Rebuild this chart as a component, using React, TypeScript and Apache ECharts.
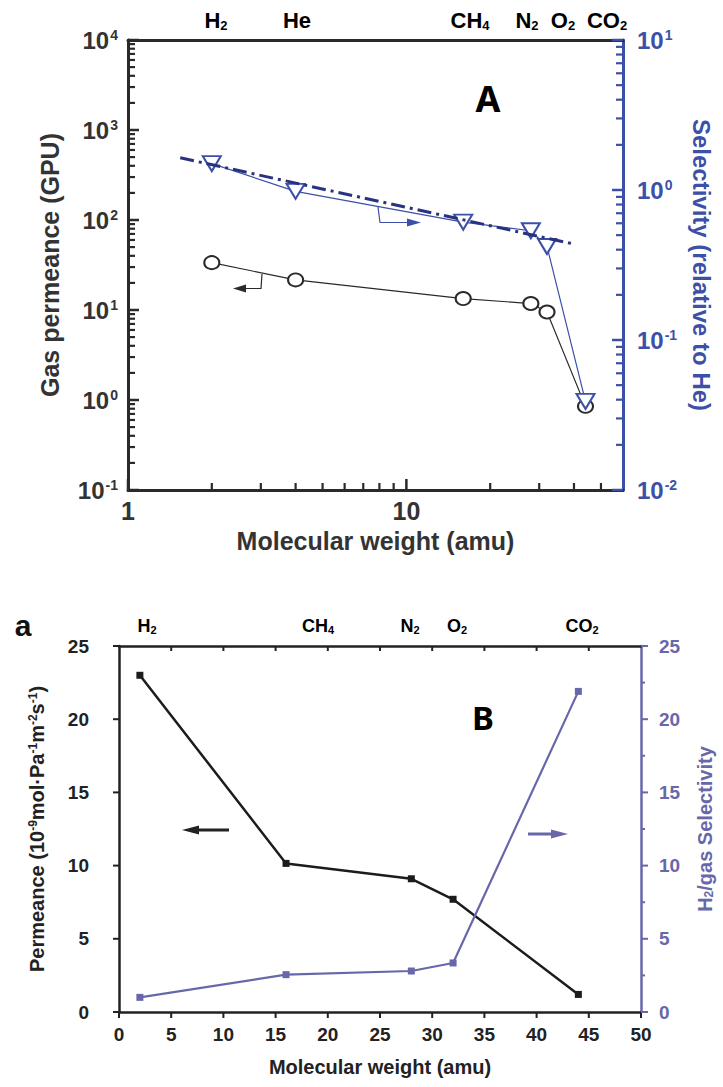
import React, { useEffect, useRef } from "react";
import * as echarts from "echarts";

// ---------- Chart A (log-log) ----------
const gasesA = ["H2", "He", "CH4", "N2", "O2", "CO2"];
const mwA = [2, 4, 16, 28, 32, 44];
const permeanceA = [33.6, 21.6, 13.4, 11.8, 9.5, 0.85];
const selectivityA = [1.5, 0.98, 0.61, 0.535, 0.42, 0.039];
const fitMwA = [1.54, 40];
const fitSelA = [1.64, 0.436];

// ---------- Chart B (linear) ----------
const gasesB = ["H2", "CH4", "N2", "O2", "CO2"];
const mwB = [2, 16, 28, 32, 44];
const permeanceB = [23.0, 10.15, 9.1, 7.7, 1.2];
const selectivityB = [1.0, 2.55, 2.8, 3.35, 21.9];

// tick helpers
const logMinorMultipliers = [2, 3, 4, 5, 6, 7, 8, 9];
const aLeftDecades = [0.1, 1, 10, 100, 1000, 10000];
const aRightDecades = [0.01, 0.1, 1, 10];
const aBottomDecades = [1, 10];
const bXTicks = [0, 5, 10, 15, 20, 25, 30, 35, 40, 45, 50];
const bYTicks = [0, 5, 10, 15, 20, 25];
const bYMinorTicks = [2.5, 7.5, 12.5, 17.5, 22.5];

// label positions (pixel) for the gas names above each panel
const gasLabelXA = [216, 297, 470, 527, 563, 607];
const gasLabelXB = [147, 318, 410, 457, 582];

const FONT = "'Liberation Sans', Arial, sans-serif";
const BLUE_A = "#3c50a8";
const NAVY_A = "#28327e";
const PURPLE_B = "#6767aa";
const DARK = "#2a2a2a";

const A_X = [1, 60];
const A_YL = [0.1, 10000];
const A_YR = [0.01, 10];
const B_X = [0, 50];
const B_Y = [0, 25];
const A_GRID = { left: 128, top: 40, width: 495, height: 450 };
const B_GRID = { left: 119, top: 646, width: 523, height: 366 };

function minors(decades: number[], max: number) {
  const out: number[] = [];
  decades.forEach((d) =>
    logMinorMultipliers.forEach((m) => {
      const v = m * d;
      if (v < max) out.push(+v.toPrecision(3));
    })
  );
  return out;
}

function gasRich(name: string) {
  const m = name.match(/^([A-Za-z]+?)(\d*)$/);
  if (!m) return name;
  return m[2] ? `{n|${m[1]}}{s|${m[2]}}` : `{n|${m[1]}}`;
}

function isPow10(v: number) {
  const e = Math.log10(v);
  return Math.abs(e - Math.round(e)) < 1e-6;
}

function pow10Label(v: number) {
  if (!isPow10(v)) return "";
  const e = Math.round(Math.log10(v));
  return `{b|10}{s|${e}}`;
}

function powRich(color: string) {
  return {
    b: { fontSize: 24, fontWeight: "bold", fontFamily: FONT, color },
    s: { fontSize: 14, fontWeight: "bold", fontFamily: FONT, color, verticalAlign: "top", padding: [0, 0, 0, 1] },
  };
}

export default function App() {
  const ref = useRef<HTMLDivElement>(null);
  const tickRef = useRef<HTMLDivElement>(null);

  useEffect(() => {
    document.body.style.margin = "0";
    if (!ref.current || !tickRef.current) return;
    const chart = echarts.init(ref.current, undefined, { renderer: "svg" });
    const tickChart = echarts.init(tickRef.current, undefined, { renderer: "svg" });

    const gasLabelRichA = {
      n: { fontSize: 22, fontWeight: "bold", fontFamily: FONT, color: "#333" },
      s: { fontSize: 13, fontWeight: "bold", fontFamily: FONT, color: "#333", verticalAlign: "bottom", padding: [10, 0, 0, 0] },
    };
    const gasLabelRichB = {
      n: { fontSize: 18, fontWeight: "bold", fontFamily: FONT, color: "#222" },
      s: { fontSize: 11, fontWeight: "bold", fontFamily: FONT, color: "#222", verticalAlign: "bottom", padding: [8, 0, 0, 0] },
    };

    const graphics: any[] = [];
    gasesA.forEach((g, i) =>
      graphics.push({ type: "text", x: gasLabelXA[i], y: 20, style: { text: gasRich(g), rich: gasLabelRichA, align: "center", verticalAlign: "middle" } })
    );
    gasesB.forEach((g, i) =>
      graphics.push({ type: "text", x: gasLabelXB[i], y: 626, style: { text: gasRich(g), rich: gasLabelRichB, align: "center", verticalAlign: "middle" } })
    );
    graphics.push(
      { type: "text", x: 488, y: 98, style: { text: "A", fontSize: 36, fontWeight: "bold", fontFamily: "'Noto Sans', sans-serif", fill: "#000", align: "center", verticalAlign: "middle" } },
      { type: "text", x: 483, y: 717, style: { text: "B", fontSize: 33, fontWeight: "bold", fontFamily: "'Noto Sans', sans-serif", fill: "#000", align: "center", verticalAlign: "middle" } },
      { type: "text", x: 23, y: 625, style: { text: "a", fontSize: 30, fontWeight: "bold", fontFamily: FONT, fill: "#111", align: "center", verticalAlign: "middle" } },
      { type: "polyline", shape: { points: [[262, 274], [261, 288.5], [243, 288.5]] }, style: { stroke: DARK, lineWidth: 1.2 } },
      { type: "polygon", shape: { points: [[233, 288.5], [246, 284.5], [246, 292.5]] }, style: { fill: DARK } },
      { type: "polyline", shape: { points: [[378, 207], [380, 222.5], [409, 222.5]] }, style: { stroke: BLUE_A, lineWidth: 1.2 } },
      { type: "polygon", shape: { points: [[421, 222.5], [407, 218.5], [407, 226.5]] }, style: { fill: BLUE_A } },
      { type: "line", shape: { x1: 229, y1: 830, x2: 194, y2: 830 }, style: { stroke: "#222", lineWidth: 3 } },
      { type: "polygon", shape: { points: [[182, 830], [199, 825.5], [199, 834.5]] }, style: { fill: "#222" } },
      { type: "line", shape: { x1: 528, y1: 834, x2: 556, y2: 834 }, style: { stroke: PURPLE_B, lineWidth: 3 } },
      { type: "polygon", shape: { points: [[568, 834], [551, 829.5], [551, 838.5]] }, style: { fill: PURPLE_B } }
    );

    const logAxisLabel = (color: string, margin: number) => ({ formatter: pow10Label, rich: powRich(color), margin });

    const option: any = {
      animation: false,
      textStyle: { fontFamily: FONT },
      grid: [{ ...A_GRID }, { ...B_GRID }],
      xAxis: [
        {
          type: "log", gridIndex: 0, min: A_X[0], max: A_X[1], position: "bottom",
          axisLine: { show: true, onZero: false, lineStyle: { color: DARK, width: 3 } },
          axisTick: { show: false },
          axisLabel: { formatter: (v: number) => (isPow10(v) ? String(Math.round(v)) : ""), fontSize: 25, fontWeight: "bold", color: "#333", margin: 8 },
          splitLine: { show: false },
          name: "Molecular weight (amu)", nameLocation: "middle", nameGap: 38,
          nameTextStyle: { fontSize: 25, fontWeight: "bold", color: "#333" },
        },
        {
          type: "log", gridIndex: 0, min: A_X[0], max: A_X[1], position: "top",
          axisLine: { show: true, onZero: false, lineStyle: { color: DARK, width: 3 } },
          axisTick: { show: false }, axisLabel: { show: false }, splitLine: { show: false },
        },
        {
          type: "value", gridIndex: 1, min: B_X[0], max: B_X[1], interval: 5, position: "bottom",
          axisLine: { show: true, onZero: false, lineStyle: { color: "#222", width: 2.5 } },
          axisTick: { show: false },
          axisLabel: { fontSize: 19, fontWeight: "bold", color: "#222", margin: 13 },
          splitLine: { show: false },
          name: "Molecular weight (amu)", nameLocation: "middle", nameGap: 45,
          nameTextStyle: { fontSize: 20, fontWeight: "bold", color: "#222" },
        },
        {
          type: "value", gridIndex: 1, min: B_X[0], max: B_X[1], interval: 5, position: "top",
          axisLine: { show: true, onZero: false, lineStyle: { color: "#222", width: 2.5 } },
          axisTick: { show: false }, axisLabel: { show: false }, splitLine: { show: false },
        },
      ],
      yAxis: [
        {
          type: "log", gridIndex: 0, min: A_YL[0], max: A_YL[1], position: "left",
          axisLine: { show: true, onZero: false, lineStyle: { color: DARK, width: 3 } },
          axisTick: { show: false },
          axisLabel: logAxisLabel("#333", 10), splitLine: { show: false },
          name: "Gas permeance (GPU)", nameLocation: "middle", nameGap: 66, nameRotate: 90,
          nameTextStyle: { fontSize: 25, fontWeight: "bold", color: "#333" },
        },
        {
          type: "log", gridIndex: 0, min: A_YR[0], max: A_YR[1], position: "right",
          axisLine: { show: true, onZero: false, lineStyle: { color: BLUE_A, width: 3 } },
          axisTick: { show: false },
          axisLabel: logAxisLabel(BLUE_A, 14), splitLine: { show: false },
          name: "Selectivity (relative to He)", nameLocation: "middle", nameGap: 66, nameRotate: -90,
          nameTextStyle: { fontSize: 24, fontWeight: "bold", color: BLUE_A },
        },
        {
          type: "value", gridIndex: 1, min: B_Y[0], max: B_Y[1], interval: 5, position: "left",
          axisLine: { show: true, onZero: false, lineStyle: { color: "#222", width: 2.5 } },
          axisTick: { show: false },
          axisLabel: { fontSize: 19, fontWeight: "bold", color: "#222", margin: 30 },
          splitLine: { show: false },
          name: "Permeance (10{u|-9}mol·Pa{u|-1}m{u|-2}s{u|-1})", nameLocation: "middle", nameGap: 72, nameRotate: 90,
          nameTextStyle: { fontSize: 20, fontWeight: "bold", color: "#222", rich: { u: { fontSize: 12, fontWeight: "bold", color: "#222", verticalAlign: "top" } } },
        },
        {
          type: "value", gridIndex: 1, min: B_Y[0], max: B_Y[1], interval: 5, position: "right",
          axisLine: { show: true, onZero: false, lineStyle: { color: PURPLE_B, width: 2.5 } },
          axisTick: { show: false },
          axisLabel: { fontSize: 19, fontWeight: "bold", color: PURPLE_B, margin: 18 },
          splitLine: { show: false },
          name: "H{d|2}/gas Selectivity", nameLocation: "middle", nameGap: 54, nameRotate: 90,
          nameTextStyle: { fontSize: 20, fontWeight: "bold", color: PURPLE_B, rich: { d: { fontSize: 12, fontWeight: "bold", color: PURPLE_B, verticalAlign: "bottom" } } },
        },
      ],
      graphic: graphics,
      series: [
        { name: "Permeance A", type: "line", xAxisIndex: 0, yAxisIndex: 0, data: mwA.map((x, i) => [x, permeanceA[i]]),
          symbol: "emptyCircle", symbolSize: [15, 13], lineStyle: { color: DARK, width: 1.2 }, itemStyle: { color: DARK, borderColor: DARK, borderWidth: 1 }, z: 3 },
        { name: "Selectivity A", type: "line", xAxisIndex: 0, yAxisIndex: 1, data: mwA.map((x, i) => [x, selectivityA[i]]),
          symbol: "emptyTriangle", symbolRotate: 180, symbolSize: [18, 15], lineStyle: { color: BLUE_A, width: 1.2 }, itemStyle: { color: BLUE_A, borderColor: BLUE_A, borderWidth: 1.2 }, z: 3 },
        { name: "Fit A", type: "line", xAxisIndex: 0, yAxisIndex: 1, data: fitMwA.map((x, i) => [x, fitSelA[i]]),
          symbol: "none", lineStyle: { color: NAVY_A, width: 3, type: [14, 5, 3, 5] }, z: 4 },
        { name: "Permeance B", type: "line", xAxisIndex: 2, yAxisIndex: 2, data: mwB.map((x, i) => [x, permeanceB[i]]),
          symbol: "rect", symbolSize: 7, lineStyle: { color: "#1c1c1c", width: 2.5 }, itemStyle: { color: "#1c1c1c" } },
        { name: "Selectivity B", type: "line", xAxisIndex: 2, yAxisIndex: 3, data: mwB.map((x, i) => [x, selectivityB[i]]),
          symbol: "rect", symbolSize: 7, lineStyle: { color: PURPLE_B, width: 2.2 }, itemStyle: { color: PURPLE_B } },
      ],
    };

    chart.setOption(option);

    // Tick marks: positions come from the main chart's own axis conversion,
    // drawn on an overlaid transparent ECharts layer.
    const ticks: any[] = [];
    const addTick = (x: number, y: number, dx: number, dy: number, color: string, w: number) => {
      if (!isFinite(x) || !isFinite(y)) return;
      ticks.push({ type: "line", shape: { x1: x, y1: y, x2: x + dx, y2: y + dy }, style: { stroke: color, lineWidth: w } });
    };
    const cx = (i: number, v: number) => Number(chart.convertToPixel({ xAxisIndex: i } as any, v));
    const cy = (i: number, v: number) => Number(chart.convertToPixel({ yAxisIndex: i } as any, v));

    const aLeftX = cx(0, A_X[0]);
    const aRightX = cx(0, A_X[1]);
    const aBottomY = cy(0, A_YL[0]);
    aLeftDecades.forEach((v) => addTick(aLeftX, cy(0, v), 11, 0, DARK, 2.5));
    minors(aLeftDecades, A_YL[1]).forEach((v) => addTick(aLeftX, cy(0, v), 7, 0, DARK, 2.2));
    aRightDecades.forEach((v) => addTick(aRightX, cy(1, v), -11, 0, BLUE_A, 2.5));
    minors(aRightDecades, A_YR[1]).forEach((v) => addTick(aRightX, cy(1, v), -7, 0, BLUE_A, 2.2));
    aBottomDecades.forEach((v) => addTick(cx(0, v), aBottomY, 0, -11, DARK, 2.5));
    minors(aBottomDecades, A_X[1]).forEach((v) => addTick(cx(0, v), aBottomY, 0, -7, DARK, 2.2));

    const bLeftX = cx(2, B_X[0]);
    const bRightX = cx(2, B_X[1]);
    const bBottomY = cy(2, B_Y[0]);
    const bTopY = cy(2, B_Y[1]);
    bXTicks.forEach((v) => addTick(cx(2, v), bBottomY, 0, 6, "#222", 2));
    bXTicks.slice(1, -1).forEach((v) => addTick(cx(2, v), bTopY, 0, 5, "#222", 2));
    bYTicks.forEach((v) => addTick(bLeftX, cy(2, v), -6, 0, "#222", 2));
    bYTicks.forEach((v) => addTick(bRightX, cy(3, v), 7, 0, PURPLE_B, 2));
    bYMinorTicks.forEach((v) => addTick(bRightX, cy(3, v), 4, 0, PURPLE_B, 2));

    tickChart.setOption({ animation: false, backgroundColor: "transparent", graphic: ticks });

    return () => {
      tickChart.dispose();
      chart.dispose();
    };
  }, []);

  return (
    <div style={{ position: "relative", width: 723, height: 1087 }}>
      <div ref={ref} style={{ position: "absolute", left: 0, top: 0, width: 723, height: 1087 }} />
      <div ref={tickRef} style={{ position: "absolute", left: 0, top: 0, width: 723, height: 1087, pointerEvents: "none" }} />
    </div>
  );
}
